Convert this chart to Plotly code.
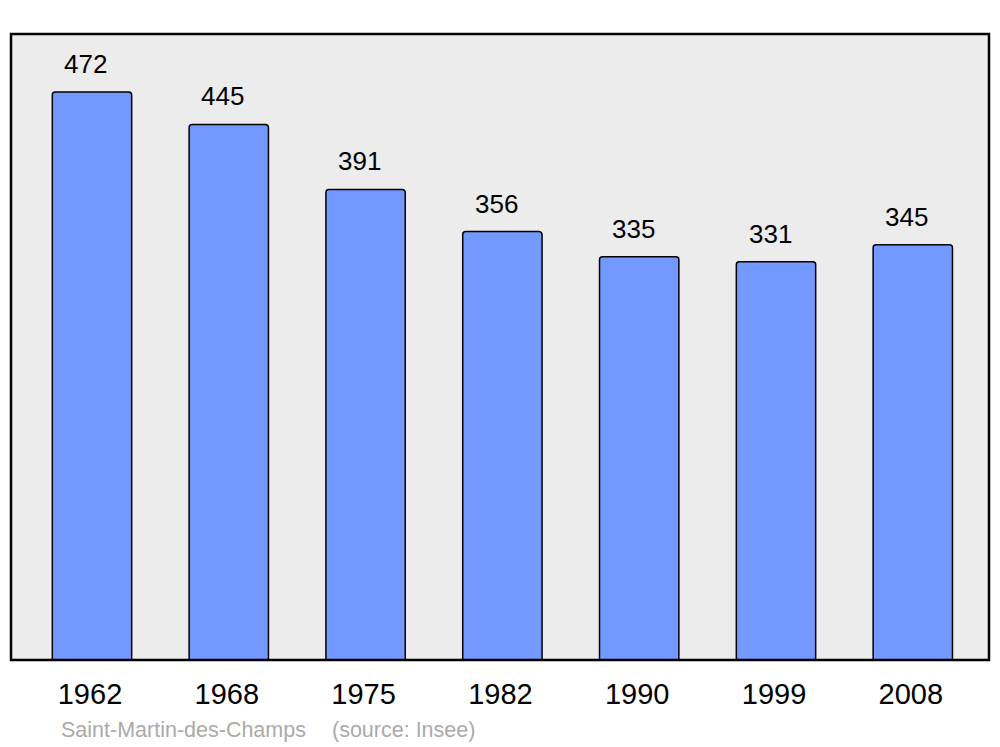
import plotly.graph_objects as go

years = ["1962", "1968", "1975", "1982", "1990", "1999", "2008"]
population = [472, 445, 391, 356, 335, 331, 345]
commune = "Saint-Martin-des-Champs"
source = "(source: Insee)"

FONT = "Liberation Sans, Arial, sans-serif"

fig = go.Figure()
fig.add_trace(go.Bar(
    x=list(range(len(years))),
    y=population,
    width=0.58,
    marker=dict(color="#7399ff", line=dict(color="#000000", width=1.5)),
    hoverinfo="skip",
))

for i, v in enumerate(population):
    fig.add_annotation(x=i, y=v, xref="x", yref="y", text=str(v), showarrow=False,
                       yanchor="middle", yshift=28, xshift=-6,
                       font=dict(family=FONT, size=26, color="#000000"))

fig.add_annotation(xref="paper", yref="paper", x=0.0511, y=-0.112,
                   xanchor="left", yanchor="middle", showarrow=False,
                   text=commune, xshift=-2,
                   font=dict(family=FONT, size=21.5, color="#aaaaaa"))
fig.add_annotation(xref="paper", yref="paper", x=0.3262, y=-0.112,
                   xanchor="left", yanchor="middle", showarrow=False,
                   text=source,
                   font=dict(family=FONT, size=21.5, color="#aaaaaa"))

fig.add_shape(type="rect", xref="paper", yref="paper", x0=0, y0=0, x1=1, y1=1,
              line=dict(color="#000000", width=2.5), layer="above")

fig.update_layout(
    width=1000, height=747,
    margin=dict(l=11, r=11, t=34, b=87),
    paper_bgcolor="#ffffff",
    plot_bgcolor="#ececec",
    barcornerradius=3,
    showlegend=False,
    font=dict(family=FONT, color="#000000"),
    xaxis=dict(
        range=[-0.592, 6.557],
        tickmode="array",
        tickvals=list(range(len(years))),
        ticktext=years,
        tickfont=dict(family=FONT, size=29, color="#000000"),
        showgrid=False, zeroline=False, showline=False,
        ticks="", ticklabelstandoff=14, ticklabelshift=-2, fixedrange=True,
    ),
    yaxis=dict(range=[0, 520.2], showgrid=False, zeroline=False, showline=False,
               showticklabels=False, ticks="", fixedrange=True),
)

fig.write_html("out.html", config={"displayModeBar": False},
               post_script="document.body.style.margin='0';document.body.style.padding='0';")
